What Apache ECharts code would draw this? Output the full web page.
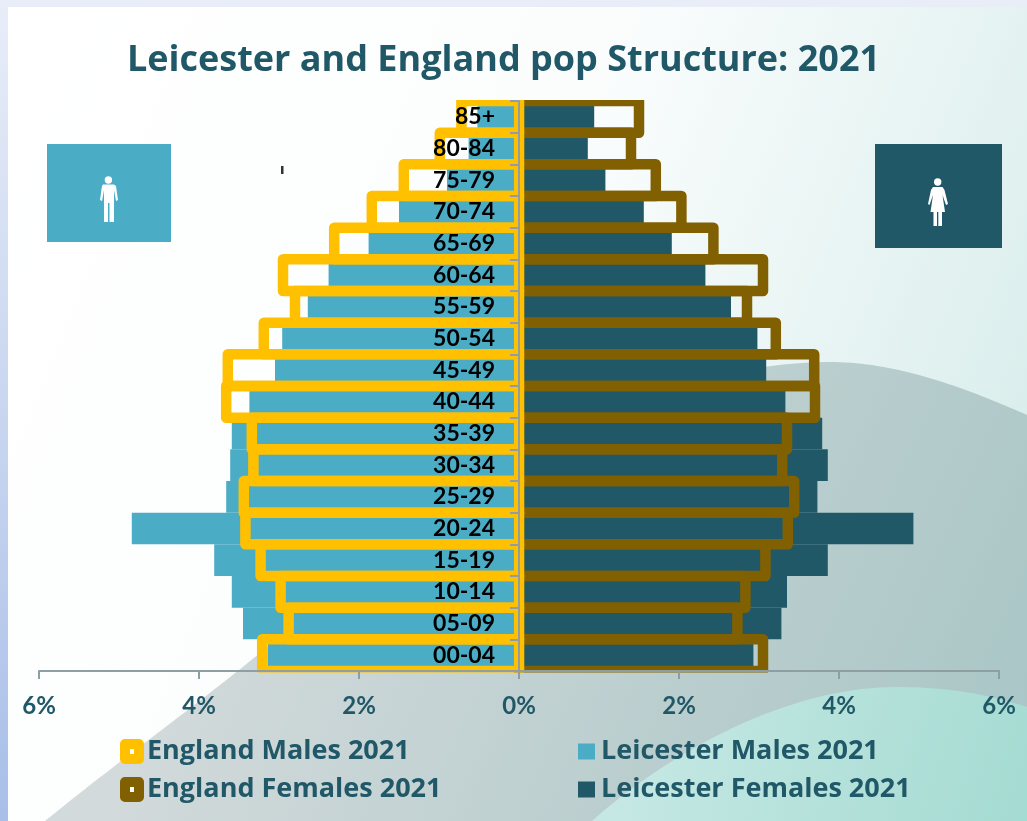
<!DOCTYPE html>
<html><head><meta charset="utf-8">
<style>html,body{margin:0;padding:0;background:#fff}#c{width:1027px;height:821px}</style>
<script src="https://cdn.jsdelivr.net/npm/echarts@6/dist/echarts.min.js"></script>
</head><body><div id="c"></div>
<script>
const ageGroups = ['85+','80-84','75-79','70-74','65-69','60-64','55-59','50-54','45-49','40-44','35-39','30-34','25-29','20-24','15-19','10-14','05-09','00-04'];
const englandMales = [0.72,0.99,1.44,1.84,2.31,2.95,2.80,3.19,3.64,3.66,3.34,3.32,3.44,3.42,3.23,2.98,2.88,3.21];
const englandFemales = [1.50,1.40,1.71,2.03,2.43,3.05,2.85,3.21,3.69,3.70,3.35,3.29,3.44,3.36,3.08,2.83,2.73,3.05];
const leicesterMales = [0.52,0.63,0.90,1.50,1.88,2.38,2.64,2.96,3.05,3.37,3.59,3.61,3.66,4.84,3.81,3.59,3.45,3.14];
const leicesterFemales = [0.94,0.86,1.08,1.56,1.91,2.33,2.65,2.98,3.09,3.33,3.79,3.86,3.73,4.93,3.86,3.35,3.28,2.93];
const titleText = 'Leicester and England pop Structure: 2021';
const FONT = 'Lato, "Open Sans", sans-serif';
const WIDE = '"Open Sans", Lato, sans-serif';
const TEAL = '#215868', BLUE = '#4bacc6', YEL = '#ffc000', BRN = '#806000';
function curve(start, segs, closeTail){
  const pts=[start]; let p=start;
  segs.forEach(s=>{for(let i=1;i<=40;i++){const t=i/40,u=1-t;
    pts.push([u*u*u*p[0]+3*u*u*t*s[0][0]+3*u*t*t*s[1][0]+t*t*t*s[2][0],
              u*u*u*p[1]+3*u*u*t*s[0][1]+3*u*t*t*s[1][1]+t*t*t*s[2][1]]);}
    p=s[2];});
  return pts.concat(closeTail);
}
const greyWave = curve([45,821],[[[120,760],[190,710],[255,657]],[[420,520],[620,362],[830,362]],[[900,362],[970,390],[1027,415]]],[[1027,821]]);
const mintWave = curve([592,821],[[[660,760],[780,687],[897,687]],[[950,687],[990,695],[1027,707]]],[[1027,821]]);
const bgFill = {type:'linear',global:true,x:60,y:60,x2:1090,y2:480,colorStops:[{offset:0,color:'#ffffff'},{offset:0.45,color:'#fbfdfd'},{offset:1,color:'#d5ecea'}]};
const bar = (name,data,color)=>({name,type:'bar',z:2,data,barGap:'-100%',barCategoryGap:'0%',itemStyle:{color}});
// outline bars: the stroke is centred on the bar edge, clipped to the grid
const outline = (name,data,color,z)=>({name,type:'custom',z,data:data.map((v,i)=>[v,i]),encode:{x:0,y:1},itemStyle:{color:'#fff',borderColor:color,borderWidth:10},
  renderItem(params,api){
    const p0=api.coord([0,api.value(1)]), p1=api.coord([api.value(0),api.value(1)]), h=api.size([0,1])[1], cs=params.coordSys;
    return {type:'group',clipPath:{type:'rect',shape:{x:cs.x-20,y:cs.y-1,width:cs.width+40,height:cs.height+2.5}},
      children:[{type:'rect',shape:{x:Math.min(p0[0],p1[0]),y:p0[1]-h/2,width:Math.abs(p1[0]-p0[0]),height:h,r:0},
        style:{fill:'none',stroke:color,lineWidth:10.5,lineJoin:'round'}}]};
  }});
const chart = echarts.init(document.getElementById('c'),null,{renderer:'canvas'});
chart.setOption({
  animation:false,
  title:{text:titleText,left:498.5,top:38,textAlign:'center',textStyle:{fontFamily:WIDE,fontWeight:700,fontSize:36,color:TEAL}},
  grid:{left:39,right:28,top:101,bottom:150,outerBoundsMode:'none',containLabel:false},
  xAxis:{type:'value',min:-6,max:6,interval:2,z:10,splitLine:{show:false},
    axisLine:{show:true,lineStyle:{color:'#8f9ea5',width:2}},
    axisTick:{show:true,length:8,lineStyle:{color:'#8f9ea5',width:2}},
    axisLabel:{margin:23,fontFamily:FONT,fontWeight:700,fontSize:24,color:TEAL,formatter:v=>Math.abs(v)+'%'}},
  yAxis:{type:'category',data:ageGroups,inverse:true,z:10,
    axisLine:{show:true,onZero:true,lineStyle:{color:'#8f9ea5',width:2}},
    axisTick:{show:true,length:9,lineStyle:{color:'#8f9ea5',width:2}},
    axisLabel:{margin:-456,interval:0,fontFamily:FONT,fontWeight:700,fontSize:23,color:'#000'}},
  legend:[
    {orient:'vertical',left:115,top:733,itemWidth:14,itemHeight:15,itemGap:11,icon:'rect',
     textStyle:{fontFamily:WIDE,fontWeight:700,fontSize:27,color:TEAL,padding:[0,0,0,3]},
     data:[{name:'England Males 2021',itemStyle:{color:'#fff',borderColor:YEL,borderWidth:10,borderJoin:'round'}},
           {name:'England Females 2021',itemStyle:{color:'#fff',borderColor:BRN,borderWidth:10,borderJoin:'round'}}]},
    {orient:'vertical',left:573,top:733,itemWidth:17,itemHeight:16,itemGap:11,icon:'rect',
     textStyle:{fontFamily:WIDE,fontWeight:700,fontSize:27,color:TEAL,padding:[0,0,0,1]},
     data:[{name:'Leicester Males 2021',itemStyle:{borderWidth:0}},{name:'Leicester Females 2021',itemStyle:{borderWidth:0}}]}
  ],
  series:[
    bar('Leicester Males 2021',leicesterMales.map(v=>-v),BLUE),
    bar('Leicester Females 2021',leicesterFemales,TEAL),
    outline('England Females 2021',englandFemales,BRN,3),
    outline('England Males 2021',englandMales.map(v=>-v),YEL,4)
  ],
  graphic:[
    {type:'rect',z:-10,silent:true,shape:{x:0,y:0,width:1027,height:821},style:{fill:bgFill}},
    {type:'polygon',z:-9,silent:true,shape:{points:greyWave},
      style:{fill:{type:'linear',global:true,x:250,y:450,x2:1027,y2:800,colorStops:[{offset:0,color:'#d3dadb'},{offset:1,color:'#a8c5c5'}]}}},
    {type:'polygon',z:-8,silent:true,shape:{points:mintWave},
      style:{fill:{type:'linear',global:true,x:640,y:700,x2:1027,y2:821,colorStops:[{offset:0,color:'#c6e8e4'},{offset:1,color:'#a4dbd2'}]}}},
    {type:'rect',z:-7,silent:true,shape:{x:0,y:0,width:1027,height:7},style:{fill:'#e8edf8'}},
    {type:'rect',z:-7,silent:true,shape:{x:0,y:0,width:8,height:821},style:{fill:{type:'linear',x:0,y:0,x2:0,y2:1,colorStops:[{offset:0,color:'#e8edf8'},{offset:1,color:'#a9bfe8'}]}}},
    {type:'rect',z:-6,silent:true,shape:{x:47,y:144,width:124,height:98},style:{fill:BLUE}},
    {type:'circle',z:-5,silent:true,shape:{cx:108.4,cy:180,r:3.7},style:{fill:'#fff'}},
    {type:'polygon',z:-5,silent:true,shape:{points:[[103,184.5],[114,184.5],[116,186],[118,200],[116,201],[114,190],[114,222],[109.5,222],[109.5,203],[108,203],[108,222],[104,222],[104,190],[102,201],[100,200],[102,186]]},style:{fill:'#fff'}},
    {type:'rect',z:-6,silent:true,shape:{x:875,y:144,width:127,height:104},style:{fill:TEAL}},
    {type:'circle',z:-5,silent:true,shape:{cx:937.7,cy:182,r:3.7},style:{fill:'#fff'}},
    {type:'polygon',z:-5,silent:true,shape:{points:[[933,187],[942.5,187],[944.5,190],[948,204],[946,205],[942.5,195],[945,212],[942,212],[942,226],[938.3,226],[938.3,212],[937,212],[937,226],[933.5,226],[933.5,212],[930.5,212],[933,195],[929.5,205],[928,204],[931,190]]},style:{fill:'#fff'}},
    {type:'rect',z:-5,silent:true,shape:{x:281,y:166,width:2.5,height:8},style:{fill:'#333'}}
  ]
});
</script></body></html>
